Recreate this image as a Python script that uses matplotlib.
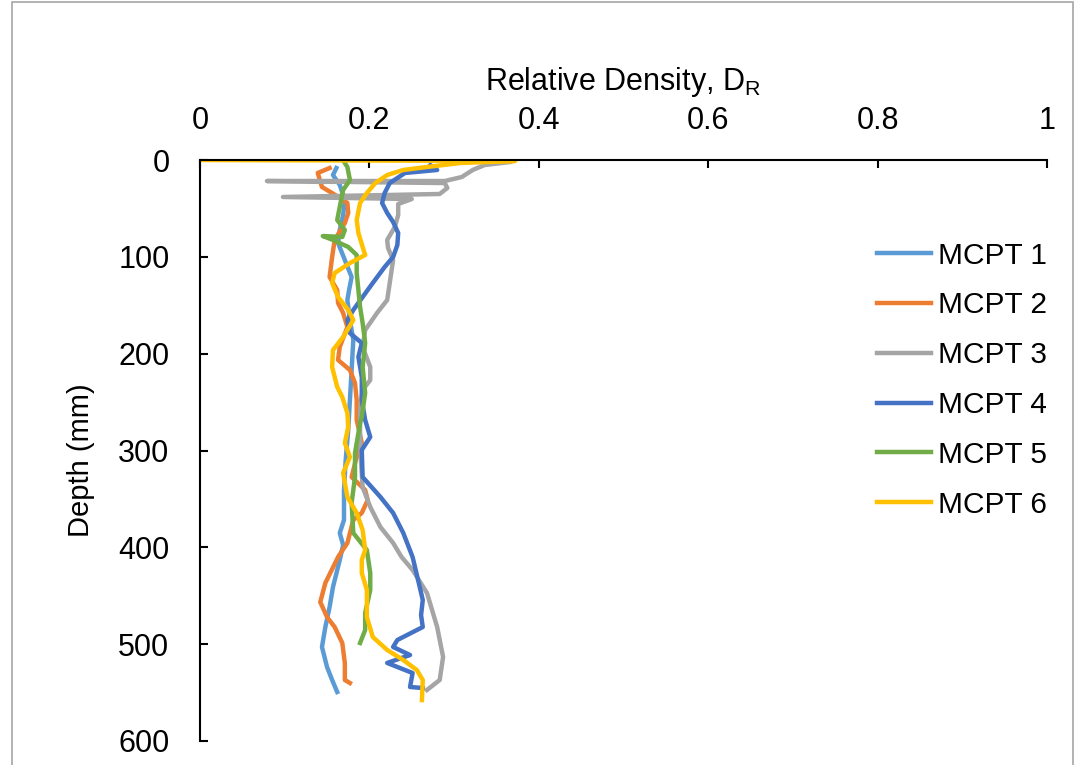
import matplotlib.pyplot as plt
from matplotlib.patches import Rectangle

plt.rcParams['font.family'] = ['Liberation Sans', 'DejaVu Sans']

# relative density (DR) against depth (mm) for each cone test
depth1 = [8.3, 15.5, 25.8, 41.3, 56.8, 72.3, 85.7, 103.3, 120.8, 134.3, 144.6, 165.2, 185.9, 216.9, 247.8,
          278.8, 309.8, 340.8, 371.8, 385.2, 397.6, 413.1, 441.0, 461.6, 482.3, 502.9, 523.6, 537.0, 549.4]
dr1 = [0.161, 0.157, 0.165, 0.171, 0.169, 0.165, 0.163, 0.171, 0.179, 0.176, 0.174, 0.177, 0.181, 0.179, 0.177,
       0.175, 0.172, 0.170, 0.170, 0.165, 0.169, 0.165, 0.157, 0.153, 0.148, 0.144, 0.150, 0.156, 0.162]

depth2 = [8.3, 13.4, 27.9, 34.1, 44.4, 54.7, 65.1, 82.6, 100.2, 120.8, 134.3, 147.7, 158.0, 172.5, 193.1,
          206.5, 216.9, 230.3, 247.8, 268.5, 284.0, 292.3, 309.8, 327.4, 340.8, 351.1, 364.5, 371.8, 395.5,
          410.0, 436.8, 456.5, 472.0, 482.3, 498.8, 519.4, 537.0, 540.1]
dr2 = [0.153, 0.139, 0.144, 0.156, 0.174, 0.175, 0.171, 0.159, 0.156, 0.153, 0.162, 0.163, 0.169, 0.174, 0.165,
       0.163, 0.177, 0.183, 0.185, 0.185, 0.189, 0.191, 0.184, 0.179, 0.195, 0.198, 0.191, 0.181, 0.174,
       0.163, 0.148, 0.142, 0.150, 0.159, 0.168, 0.171, 0.171, 0.177]

depth3 = [2.1, 5.2, 10.3, 17.6, 21.7, 21.7, 23.8, 28.9, 35.1, 38.2, 40.3, 45.4, 56.8, 69.2, 82.6, 90.9,
          103.3, 127.0, 144.6, 158.0, 175.6, 193.1, 213.8, 227.2, 237.5, 258.2, 289.2, 309.8, 337.7, 358.3,
          379.0, 395.5, 410.0, 423.4, 447.2, 482.3, 513.2, 537.0, 547.3]
dr3 = [0.366, 0.336, 0.322, 0.309, 0.289, 0.079, 0.289, 0.292, 0.283, 0.098, 0.250, 0.234, 0.234, 0.230, 0.221, 0.222,
       0.228, 0.224, 0.221, 0.209, 0.195, 0.192, 0.201, 0.201, 0.192, 0.189, 0.189, 0.190, 0.192, 0.201,
       0.213, 0.228, 0.238, 0.251, 0.268, 0.280, 0.287, 0.283, 0.268]

depth4 = [5.2, 10.3, 13.4, 23.8, 34.1, 44.4, 54.7, 64.0, 75.4, 87.8, 100.2, 110.5, 127.0, 141.5, 154.9,
          165.2, 178.7, 189.0, 203.4, 224.1, 247.8, 268.5, 286.1, 299.5, 327.4, 348.0, 364.5, 385.2, 410.0,
          432.0, 454.4, 470.0, 482.3, 495.7, 502.9, 511.2, 519.4, 529.8, 544.2, 545.3]
dr4 = [0.272, 0.280, 0.242, 0.224, 0.218, 0.215, 0.221, 0.228, 0.234, 0.233, 0.228, 0.218, 0.204, 0.192, 0.181,
       0.174, 0.177, 0.191, 0.187, 0.191, 0.191, 0.195, 0.201, 0.191, 0.192, 0.213, 0.228, 0.240, 0.251,
       0.257, 0.263, 0.261, 0.263, 0.233, 0.228, 0.248, 0.221, 0.251, 0.248, 0.263]

depth5 = [3.1, 7.2, 20.7, 31.0, 48.5, 62.0, 72.3, 79.5, 78.5, 82.6, 89.8, 98.1, 116.7, 134.3, 151.8, 168.3,
          189.0, 213.8, 240.6, 265.4, 271.6, 302.6, 327.4, 354.2, 385.2, 402.8, 426.5, 444.1, 467.8, 485.4, 498.8]
dr5 = [0.171, 0.174, 0.177, 0.169, 0.165, 0.162, 0.171, 0.168, 0.145, 0.157, 0.175, 0.185, 0.185, 0.187, 0.189, 0.192,
       0.195, 0.192, 0.195, 0.191, 0.189, 0.183, 0.183, 0.179, 0.181, 0.197, 0.201, 0.201, 0.195, 0.195, 0.189]

depth6 = [0.0, 1.0, 3.1, 7.2, 10.3, 15.5, 23.8, 34.1, 44.4, 62.0, 75.4, 89.8, 98.1, 106.4, 116.7, 127.0,
          141.5, 154.9, 165.2, 182.8, 196.2, 213.8, 234.4, 244.8, 261.3, 275.7, 292.3, 306.7, 323.2, 348.0,
          364.5, 382.1, 402.8, 413.1, 426.5, 444.1, 472.0, 492.6, 506.0, 516.4, 526.7, 537.0, 557.7]
dr6 = [0.0, 0.372, 0.307, 0.268, 0.240, 0.221, 0.207, 0.197, 0.189, 0.185, 0.187, 0.192, 0.195, 0.177, 0.159, 0.156,
       0.163, 0.175, 0.181, 0.169, 0.157, 0.156, 0.162, 0.168, 0.174, 0.175, 0.171, 0.177, 0.169, 0.174,
       0.185, 0.192, 0.195, 0.191, 0.191, 0.197, 0.197, 0.204, 0.221, 0.240, 0.256, 0.263, 0.262]

nombres = ['MCPT 1', 'MCPT 2', 'MCPT 3', 'MCPT 4', 'MCPT 5', 'MCPT 6']
colores = ['#5B9BD5', '#ED7D31', '#A5A5A5', '#4472C4', '#70AD47', '#FFC000']
series = [(dr1, depth1), (dr2, depth2), (dr3, depth3), (dr4, depth4), (dr5, depth5), (dr6, depth6)]

fig = plt.figure(figsize=(10.79, 7.65), dpi=100)
fig.patches.append(Rectangle((12 / 1079, -0.1), 1061 / 1079, 1.1 - 2 / 765, transform=fig.transFigure,
                             fill=False, edgecolor='#A6A6A6', linewidth=1.2))

ax = fig.add_axes([200 / 1079, 1 - 741 / 765, 847 / 1079, 581 / 765])
for (x, y), nombre, color in zip(series, nombres, colores):
    ax.plot(x, y, color=color, linewidth=3.2, label=nombre, solid_joinstyle='round')

ax.set_xlim(0, 1)
ax.set_ylim(600, 0)
ax.set_xticks([0, 0.2, 0.4, 0.6, 0.8, 1])
ax.set_xticklabels(['0', '0.2', '0.4', '0.6', '0.8', '1'])
ax.set_yticks(range(0, 601, 100))

ax.xaxis.tick_top()
ax.xaxis.set_label_position('top')
ax.spines['right'].set_visible(False)
ax.spines['bottom'].set_visible(False)
ax.spines['top'].set_linewidth(1.5)
ax.spines['left'].set_linewidth(1.5)
ax.tick_params(axis='both', direction='in', length=6, width=1.5, labelsize=22, colors='black')
ax.tick_params(axis='x', pad=17)
ax.tick_params(axis='y', pad=22)

ax.set_xlabel('Relative Density, D$_\\mathregular{R}$', fontsize=22, labelpad=12)
ax.set_ylabel('Depth (mm)', fontsize=21)
ax.yaxis.set_label_coords(-0.124, 0.484)

ax.legend(loc='upper left', bbox_to_anchor=(0.785, 0.88), frameon=False, fontsize=21.5,
          handlelength=1.8, handletextpad=0.25, labelspacing=0.73, borderaxespad=0)

plt.savefig('out.png', dpi=100)
